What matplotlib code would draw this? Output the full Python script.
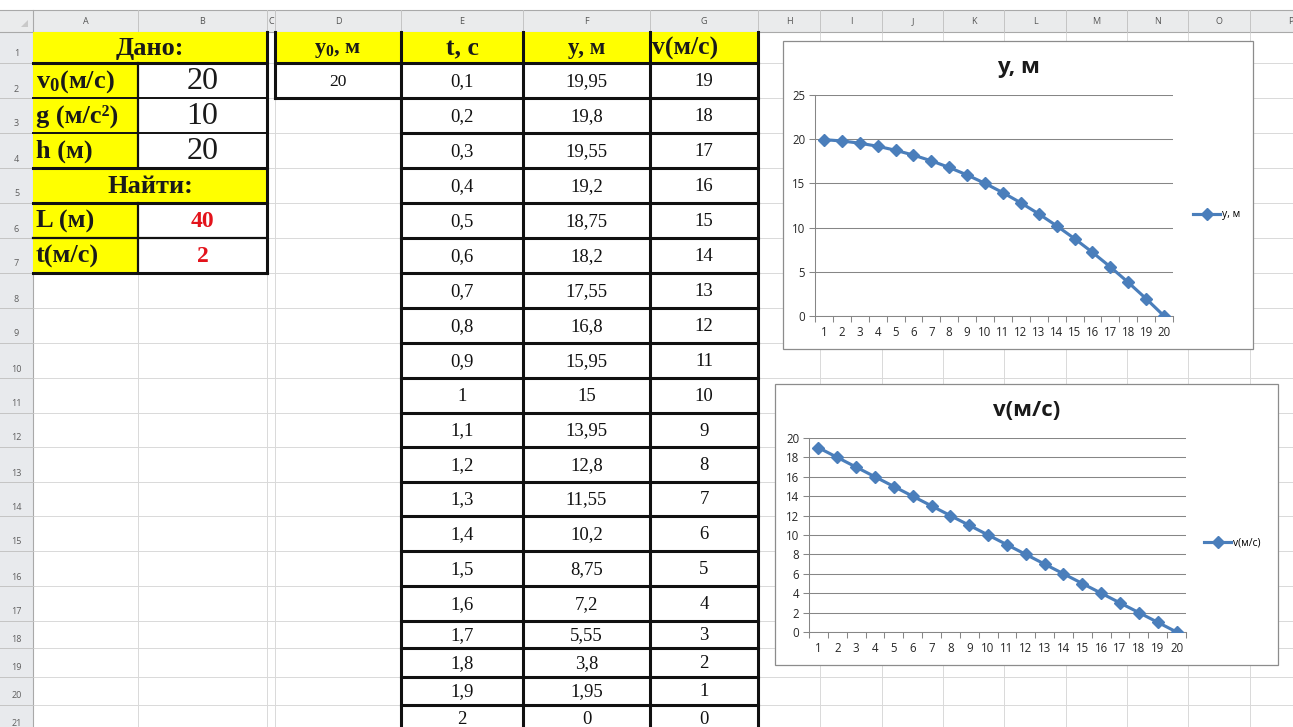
"""Excel sheet screenshot: free fall table with y(t) and v(t) line charts."""

import matplotlib

matplotlib.use("Agg")
import matplotlib.pyplot as plt
from matplotlib.patches import Polygon, Rectangle

plt.rcParams["mathtext.fontset"] = "custom"
plt.rcParams["mathtext.rm"] = "Liberation Serif:bold"
plt.rcParams["mathtext.it"] = "Liberation Serif:bold"
plt.rcParams["mathtext.bf"] = "Liberation Serif:bold"

# ---- data -----------------------------------------------------------------
given_labels = ["v$_0$(м/с)", "g (м/с²)", "h (м)"]
given_values = [20, 10, 20]
found_labels = ["L (м)", "t(м/с)"]
found_values = [40, 2]
y0_value = 20

t_values = [0.1, 0.2, 0.3, 0.4, 0.5, 0.6, 0.7, 0.8, 0.9, 1,
            1.1, 1.2, 1.3, 1.4, 1.5, 1.6, 1.7, 1.8, 1.9, 2]
y_values = [19.95, 19.8, 19.55, 19.2, 18.75, 18.2, 17.55, 16.8, 15.95, 15,
            13.95, 12.8, 11.55, 10.2, 8.75, 7.2, 5.55, 3.8, 1.95, 0]
v_values = [19, 18, 17, 16, 15, 14, 13, 12, 11, 10,
            9, 8, 7, 6, 5, 4, 3, 2, 1, 0]
categories = list(range(1, 21))

col_letters = ["A", "B", "C", "D", "E", "F", "G", "H",
               "I", "J", "K", "L", "M", "N", "O", "P"]

# ---- layout (pixels) ------------------------------------------------------
W, H = 1293, 727
col_edges = [0, 33, 138, 267, 275, 401, 523, 650, 758,
             820, 882, 943, 1004, 1066, 1127, 1188, 1250, 1312]
row_edges = [10, 32, 63, 98, 133, 168, 203, 238, 273, 308, 343, 378,
             413, 447, 482, 516, 551, 586, 621, 648, 677, 705, 733]

YELLOW = "#FFFF00"
BLUE = "#4A7EBB"
GRID = "#D9D9D9"
INK = "#111111"
SERIF = "Liberation Serif"
UI = "Open Sans"

fig = plt.figure(figsize=(W / 100, H / 100), dpi=100)
sheet = fig.add_axes([0, 0, 1, 1])
sheet.set_xlim(0, W)
sheet.set_ylim(H, 0)
sheet.axis("off")


def cx(i):
    return (col_edges[i] + col_edges[i + 1]) / 2


def ry(r):
    return (row_edges[r] + row_edges[r + 1]) / 2


def fill(x0, y0, x1, y1, color, z=1):
    sheet.add_patch(Rectangle((x0, y0), x1 - x0, y1 - y0, facecolor=color,
                              edgecolor="none", zorder=z))


def hline(y, x0, x1, lw=2.0, color=INK, z=3):
    sheet.plot([x0, x1], [y, y], color=color, lw=lw, zorder=z,
               solid_capstyle="projecting")


def vline(x, y0, y1, lw=2.0, color=INK, z=3):
    sheet.plot([x, x], [y0, y1], color=color, lw=lw, zorder=z,
               solid_capstyle="projecting")


def fmt(v):
    return f"{v:g}".replace(".", ",")


# sheet gridlines
for x in col_edges[1:]:
    vline(x, row_edges[1], H, lw=0.7, color=GRID, z=0)
for y in row_edges[1:]:
    hline(y, col_edges[1], W, lw=0.7, color=GRID, z=0)

# column header band and row header column
fill(0, row_edges[0], W, row_edges[1], "#EAEBEC", z=1)
fill(0, row_edges[1], col_edges[1], H, "#E8EAED", z=1)
hline(row_edges[0], 0, W, lw=0.8, color="#A9A9A9", z=2)
hline(row_edges[1], 0, W, lw=0.8, color="#A9A9A9", z=2)
vline(col_edges[1], row_edges[0], H, lw=0.8, color="#A9A9A9", z=2)
for x in col_edges[2:]:
    vline(x, row_edges[0], row_edges[1], lw=0.7, color="#C4C4C4", z=2)
for y in row_edges[2:]:
    hline(y, 0, col_edges[1], lw=0.7, color="#C4C4C4", z=2)
sheet.add_patch(Polygon([[21, 27], [28, 27], [28, 20]], closed=True,
                        facecolor="#C9C9C9", edgecolor="none", zorder=2))

for i, letter in enumerate(col_letters):
    x = cx(i + 1)
    if letter == "C":
        x = 271
    elif letter == "P":
        x = 1291
    sheet.text(x, (row_edges[0] + row_edges[1]) / 2 + 1, letter, fontsize=6.5,
               family=UI, color="#555555", ha="center", va="center", zorder=4)
for r in range(1, 22):
    sheet.text(cx(0), row_edges[r + 1] - 9, str(r), fontsize=6.5, family=UI,
               color="#5E5E5E", ha="center", va="center", zorder=4)

# ---- left table: Дано / Найти ----------------------------------------------
xa0, xa1, xb1 = col_edges[1], col_edges[2], col_edges[3]
for r in range(1, 8):
    fill(xa0, row_edges[r], xa1, row_edges[r + 1], YELLOW, z=2)
    if r in (1, 5):
        fill(xa1, row_edges[r], xb1, row_edges[r + 1], YELLOW, z=2)
    else:
        fill(xa1, row_edges[r], xb1, row_edges[r + 1], "white", z=2)

bold_label = dict(family=SERIF, weight="bold", color="#1A1A1A", va="center", zorder=5)
sheet.text((xa0 + xb1) / 2, ry(1) + 1, "Дано:", fontsize=19, ha="center", **bold_label)
sheet.text((xa0 + xb1) / 2, ry(5) + 1, "Найти:", fontsize=19, ha="center", **bold_label)
for k, (lab, val) in enumerate(zip(given_labels, given_values)):
    r = 2 + k
    sheet.text(xa0 + 3, ry(r) + 1, lab, fontsize=19, ha="left", **bold_label)
    sheet.text(cx(2), ry(r) + 1, str(val), fontsize=23, family=SERIF,
               color="#1A1A1A", ha="center", va="center", zorder=5)
for k, (lab, val) in enumerate(zip(found_labels, found_values)):
    r = 6 + k
    sheet.text(xa0 + 3, ry(r) + 1, lab, fontsize=19, ha="left", **bold_label)
    sheet.text(cx(2), ry(r) + 1, str(val), fontsize=17, family=SERIF,
               weight="bold", color="#E3131B", ha="center", va="center", zorder=5)

for r, lw in zip(range(2, 9), [2.2, 1.4, 1.4, 2.2, 2.2, 1.6, 2.2]):
    hline(row_edges[r], xa0, xb1, lw=lw)
vline(xa1, row_edges[2], row_edges[5], lw=1.6)
vline(xa1, row_edges[6], row_edges[8], lw=1.6)
vline(xb1, row_edges[1], row_edges[8], lw=2.2)

# ---- y0 cell ----------------------------------------------------------------
xd0, xd1 = col_edges[4], col_edges[5]
fill(xd0, row_edges[1], xd1, row_edges[2], YELLOW, z=2)
fill(xd0, row_edges[2], xd1, row_edges[3], "white", z=2)
sheet.text(cx(4), ry(1) + 2, "y$_0$, м", fontsize=16, ha="center", **bold_label)
sheet.text(cx(4), ry(2) + 1, str(y0_value), fontsize=12.5, family=SERIF,
           color=INK, ha="center", va="center", zorder=5)
hline(row_edges[2], xd0, xd1, lw=2.2)
hline(row_edges[3], xd0, xd1, lw=2.2)
vline(xd0, row_edges[1], row_edges[3], lw=2.2)

# ---- t / y / v table --------------------------------------------------------
for i in (5, 6, 7):
    fill(col_edges[i], row_edges[1], col_edges[i + 1], row_edges[2], YELLOW, z=2)
    fill(col_edges[i], row_edges[2], col_edges[i + 1], H, "white", z=2)
sheet.text(cx(5), ry(1) + 1, "t, с", fontsize=18.5, ha="center", **bold_label)
sheet.text(cx(6), ry(1) + 1, "y, м", fontsize=16.5, ha="center", **bold_label)
sheet.text(col_edges[7] + 2, ry(1) + 1, "v(м/с)", fontsize=18.5, ha="left", **bold_label)

for k, (t, y, v) in enumerate(zip(t_values, y_values, v_values)):
    r = 2 + k
    for i, val in zip((5, 6, 7), (t, y, v)):
        sheet.text(cx(i), ry(r) + 1, fmt(val), fontsize=13.5, family=SERIF,
                   color=INK, ha="center", va="center", zorder=5)

for x in col_edges[5:9]:
    vline(x, row_edges[1], H, lw=2.2)
for y in row_edges[2:]:
    hline(y, col_edges[5], col_edges[8], lw=2.2)


# ---- charts -----------------------------------------------------------------
def px_rect(x0, y0, x1, y1):
    return [x0 / W, 1 - y1 / H, (x1 - x0) / W, (y1 - y0) / H]


def draw_chart(frame, plot_box, title, title_y, values, yticks, legend_xy, label):
    x0, y0, x1, y1 = frame
    sheet.add_patch(Rectangle((x0, y0), x1 - x0, y1 - y0, facecolor="white",
                              edgecolor="#8C8C8C", lw=0.9, zorder=10))
    ax = fig.add_axes(px_rect(*plot_box))
    ax.set_facecolor("none")
    ax.plot(categories, values, color=BLUE, lw=2.25, marker="D", ms=6.5,
            markeredgecolor=BLUE, label=label, zorder=3)
    ax.set_xlim(categories[0] - 0.5, categories[-1] + 0.5)
    ax.set_ylim(yticks[0], yticks[-1])
    ax.set_yticks(yticks)
    ax.set_yticklabels([str(t) for t in yticks])
    ax.set_xticks(categories)
    ax.set_xticklabels([str(c) for c in categories])
    ax.set_xticks([c - 0.5 for c in categories] + [categories[-1] + 0.5], minor=True)
    ax.yaxis.grid(True, color="#868686", lw=0.75)
    ax.set_axisbelow(True)
    ax.tick_params(axis="x", which="major", length=0, pad=7, labelsize=8.3,
                   labelcolor="#262626")
    ax.tick_params(axis="x", which="minor", length=4, width=0.75,
                   color="#868686", direction="out")
    ax.tick_params(axis="y", length=4, width=0.75, color="#868686", pad=3,
                   labelsize=8.3, labelcolor="#262626")
    for lab in ax.get_xticklabels() + ax.get_yticklabels():
        lab.set_family(UI)
    for s in ("top", "right"):
        ax.spines[s].set_visible(False)
    for s in ("left", "bottom"):
        ax.spines[s].set_color("#868686")
        ax.spines[s].set_linewidth(0.75)
    fig.text((x0 + x1) / 2 / W, 1 - title_y / H, title, family=UI,
             weight="bold", fontsize=16, color="#1A1A1A", ha="center", va="center")
    ax.legend(loc="center left", bbox_to_anchor=(legend_xy[0] / W, 1 - legend_xy[1] / H),
              bbox_transform=fig.transFigure, frameon=False, numpoints=1,
              handlelength=2.6, handletextpad=0.15, borderpad=0, borderaxespad=0,
              prop={"family": UI, "size": 7.5})
    return ax


draw_chart((783, 41, 1253, 349), (815, 95, 1173, 316), "y, м", 68,
           y_values, [0, 5, 10, 15, 20, 25], (1193, 215), "y, м")
draw_chart((775, 384, 1278, 665), (809, 438, 1186, 632), "v(м/с)", 410,
           v_values, [0, 2, 4, 6, 8, 10, 12, 14, 16, 18, 20], (1204, 543), "v(м/с)")

fig.savefig("out.png", dpi=100)
